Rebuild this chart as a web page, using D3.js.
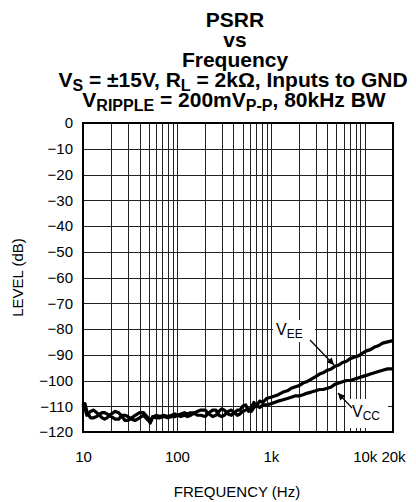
<!DOCTYPE html>
<html>
<head>
<meta charset="utf-8">
<script src="https://cdn.jsdelivr.net/npm/d3@7"></script>
<style>
  body { margin: 0; background: #fff; }
  svg { display: block; font-family: Arial, "Liberation Sans", sans-serif; }
</style>
</head>
<body>
<div id="chart"></div>
<script>
// values
var freqs = [10, 10.5, 11, 12, 13, 14, 15, 16, 17, 18, 20, 22, 24, 26, 28, 30, 33, 36, 40, 44,
    48, 52, 55, 60, 66, 72, 80, 88, 95, 100, 110, 120, 130, 140, 150, 165, 180, 200, 220, 240,
    260, 280, 300, 320, 350, 380, 410, 440, 470, 500, 540, 580, 620, 660, 700, 760, 820, 900, 1000, 1100,
    1200, 1350, 1500, 1650, 1800, 2000, 2200, 2400, 2700, 3000, 3300, 3600, 4000, 4400, 4800, 5300, 5800, 6400, 7000, 7700,
    8500, 9400, 10400, 11500, 12700, 14000, 15500, 17500, 20000];

var vee = [-109, -111, -113.5, -112, -111.5, -112.5, -113.5, -114.5, -115, -114.5, -113, -112, -112.5, -114, -115.5, -115.5, -114.5, -113.5, -112.5, -112.5,
    -114, -116.5, -114.5, -113.5, -114, -113.5, -114, -113.5, -113, -113.5, -113, -112.5, -113, -112.5, -113, -112, -111.5, -111.5, -113, -114,
    -113.5, -112, -111, -111.5, -113, -113.5, -112.5, -111.5, -111.5, -110, -109.5, -112, -110.5, -108.5, -110, -108, -108.5, -107, -106.5, -106,
    -105.5, -104.5, -104, -103, -102.5, -102, -101, -100.5, -99.5, -98.5, -97.5, -97, -96, -95.5, -94.5, -94, -93, -92.5, -91.5, -91,
    -90.5, -89.5, -88.5, -88, -87, -86.5, -85.5, -85, -84.5];

var vcc = [-110.5, -109, -112, -114.5, -114.5, -114, -113, -112.5, -112.5, -113, -114, -115, -115, -113.5, -113.5, -114, -115, -115.5, -114.5, -113.5,
    -115, -116, -114, -114.5, -114.5, -114, -114.5, -114, -114, -113.5, -114, -113.5, -114, -113.5, -112.5, -113.5, -113.5, -114, -112.5, -111.5,
    -111.5, -113.5, -114, -113.5, -112, -111.5, -112.5, -113.5, -113, -112, -111.5, -111, -112, -110.5, -109.5, -110.5, -109.5, -109.5, -109, -108.5,
    -108, -107.5, -107, -106.5, -106, -106, -105.5, -105, -104.5, -104, -103.5, -103.5, -103, -102.5, -101.5, -101, -100.5, -100, -100, -99.5,
    -99, -98.5, -98, -97.5, -97, -96.5, -96, -95.5, -95.5];

var yTickValues = [0, -10, -20, -30, -40, -50, -60, -70, -80, -90, -100, -110, -120];
var xTickValues = [10, 100, 1000, 10000, 20000];
var xTickLabels = ["10", "100", "1k", "10k", "20k"];

var width = 416, height = 502;
var margin = {top: 123, right: 23, bottom: 70, left: 83};

var svg = d3.select("#chart").append("svg")
    .attr("width", width)
    .attr("height", height);

var x = d3.scaleLog().domain([10, 20000]).range([margin.left, width - margin.right]);
var y = d3.scaleLinear().domain([-120, 0]).range([height - margin.bottom, margin.top]);

// title
var title = svg.append("text")
    .attr("text-anchor", "middle")
    .attr("font-weight", "bold")
    .attr("font-size", 21)
    .attr("fill", "#000");

title.append("tspan").attr("x", 235).attr("y", 27).text("PSRR");
title.append("tspan").attr("x", 235).attr("y", 47).text("vs");
title.append("tspan").attr("x", 235).attr("y", 67).text("Frequency");

var t4 = svg.append("text")
    .attr("text-anchor", "middle")
    .attr("font-weight", "bold")
    .attr("font-size", 21)
    .attr("x", 233).attr("y", 87);
t4.append("tspan").text("V");
t4.append("tspan").attr("font-size", 16).attr("dy", 4).text("S");
t4.append("tspan").attr("dy", -4).text(" = ±15V, R");
t4.append("tspan").attr("font-size", 16).attr("dy", 4).text("L");
t4.append("tspan").attr("dy", -4).text(" = 2kΩ, Inputs to GND");

var t5 = svg.append("text")
    .attr("text-anchor", "middle")
    .attr("font-weight", "bold")
    .attr("font-size", 21)
    .attr("x", 234).attr("y", 107);
t5.append("tspan").text("V");
t5.append("tspan").attr("font-size", 16).attr("dy", 4).text("RIPPLE");
t5.append("tspan").attr("dy", -4).text(" = 200mV");
t5.append("tspan").attr("font-size", 16).attr("dy", 4).text("P-P");
t5.append("tspan").attr("dy", -4).text(", 80kHz BW");

// grid
var grid = svg.append("g").attr("stroke", "#222").attr("stroke-width", 1);

grid.selectAll(".vgrid")
    .data(x.ticks())
    .enter().append("line")
    .attr("class", "vgrid")
    .attr("x1", function(d) { return Math.round(x(d)) + 0.5; })
    .attr("x2", function(d) { return Math.round(x(d)) + 0.5; })
    .attr("y1", y(0))
    .attr("y2", y(-120));

grid.selectAll(".hgrid")
    .data(yTickValues)
    .enter().append("line")
    .attr("class", "hgrid")
    .attr("x1", x(10))
    .attr("x2", x(20000))
    .attr("y1", function(d) { return Math.round(y(d)) + 0.5; })
    .attr("y2", function(d) { return Math.round(y(d)) + 0.5; });

// label boxes cover the grid
var boxes = [
    {x: 273, y: 320, w: 42, h: 22},
    {x: 346, y: 399, w: 42, h: 29}
];
svg.selectAll(".lbox")
    .data(boxes)
    .enter().append("rect")
    .attr("x", function(d) { return d.x; })
    .attr("y", function(d) { return d.y; })
    .attr("width", function(d) { return d.w; })
    .attr("height", function(d) { return d.h; })
    .attr("fill", "#fff");

// curves
var line = d3.line()
    .x(function(d, i) { return x(freqs[i]); })
    .y(function(d) { return y(d); });

[vee, vcc].forEach(function(s) {
    svg.append("path")
        .datum(s)
        .attr("d", line)
        .attr("fill", "none")
        .attr("stroke", "#000")
        .attr("stroke-width", 3.2)
        .attr("stroke-linejoin", "round");
});

// frame
svg.append("rect")
    .attr("x", x(10))
    .attr("y", y(0))
    .attr("width", x(20000) - x(10))
    .attr("height", y(-120) - y(0))
    .attr("fill", "none")
    .attr("stroke", "#000")
    .attr("stroke-width", 2);

// axes labels
var xAxis = d3.axisBottom(x)
    .tickValues(xTickValues)
    .tickFormat(function(d, i) { return xTickLabels[i]; })
    .tickSize(0)
    .tickPadding(19);

svg.append("g")
    .attr("transform", "translate(0," + y(-120) + ")")
    .call(xAxis)
    .call(function(g) { g.select(".domain").remove(); })
    .selectAll("text")
    .attr("font-size", 15)
    .attr("font-family", "Arial, 'Liberation Sans', sans-serif")
    .attr("fill", "#000");

var yAxis = d3.axisLeft(y)
    .tickValues(yTickValues)
    .tickSize(0)
    .tickPadding(10);

svg.append("g")
    .attr("transform", "translate(" + x(10) + ",0)")
    .call(yAxis)
    .call(function(g) { g.select(".domain").remove(); })
    .selectAll("text")
    .attr("font-size", 15)
    .attr("font-family", "Arial, 'Liberation Sans', sans-serif")
    .attr("fill", "#000");

svg.append("text")
    .attr("x", 237).attr("y", 497)
    .attr("text-anchor", "middle")
    .attr("font-size", 15)
    .text("FREQUENCY (Hz)");

svg.append("text")
    .attr("transform", "translate(23," + ((y(0) + y(-120)) / 2) + ") rotate(-90)")
    .attr("text-anchor", "middle")
    .attr("font-size", 15)
    .text("LEVEL (dB)");

// series labels and arrows
svg.append("defs").append("marker")
    .attr("id", "ah")
    .attr("viewBox", "0 0 10 10")
    .attr("refX", 10).attr("refY", 5)
    .attr("markerWidth", 9).attr("markerHeight", 7)
    .attr("markerUnits", "userSpaceOnUse")
    .attr("orient", "auto")
    .append("path")
    .attr("d", "M0,0L10,5L0,10Z")
    .attr("fill", "#000");

var lee = svg.append("text").attr("x", 276).attr("y", 335).attr("font-size", 16);
lee.append("tspan").text("V");
lee.append("tspan").attr("font-size", 12).attr("dy", 3).text("EE");

var lcc = svg.append("text").attr("x", 352).attr("y", 417).attr("font-size", 16);
lcc.append("tspan").text("V");
lcc.append("tspan").attr("font-size", 12).attr("dy", 3).text("CC");

svg.append("line")
    .attr("x1", 310).attr("y1", 340).attr("x2", 334).attr("y2", 365)
    .attr("stroke", "#000").attr("stroke-width", 1.2)
    .attr("marker-end", "url(#ah)");

svg.append("line")
    .attr("x1", 352).attr("y1", 408).attr("x2", 338).attr("y2", 393)
    .attr("stroke", "#000").attr("stroke-width", 1.2)
    .attr("marker-end", "url(#ah)");
</script>
</body>
</html>
